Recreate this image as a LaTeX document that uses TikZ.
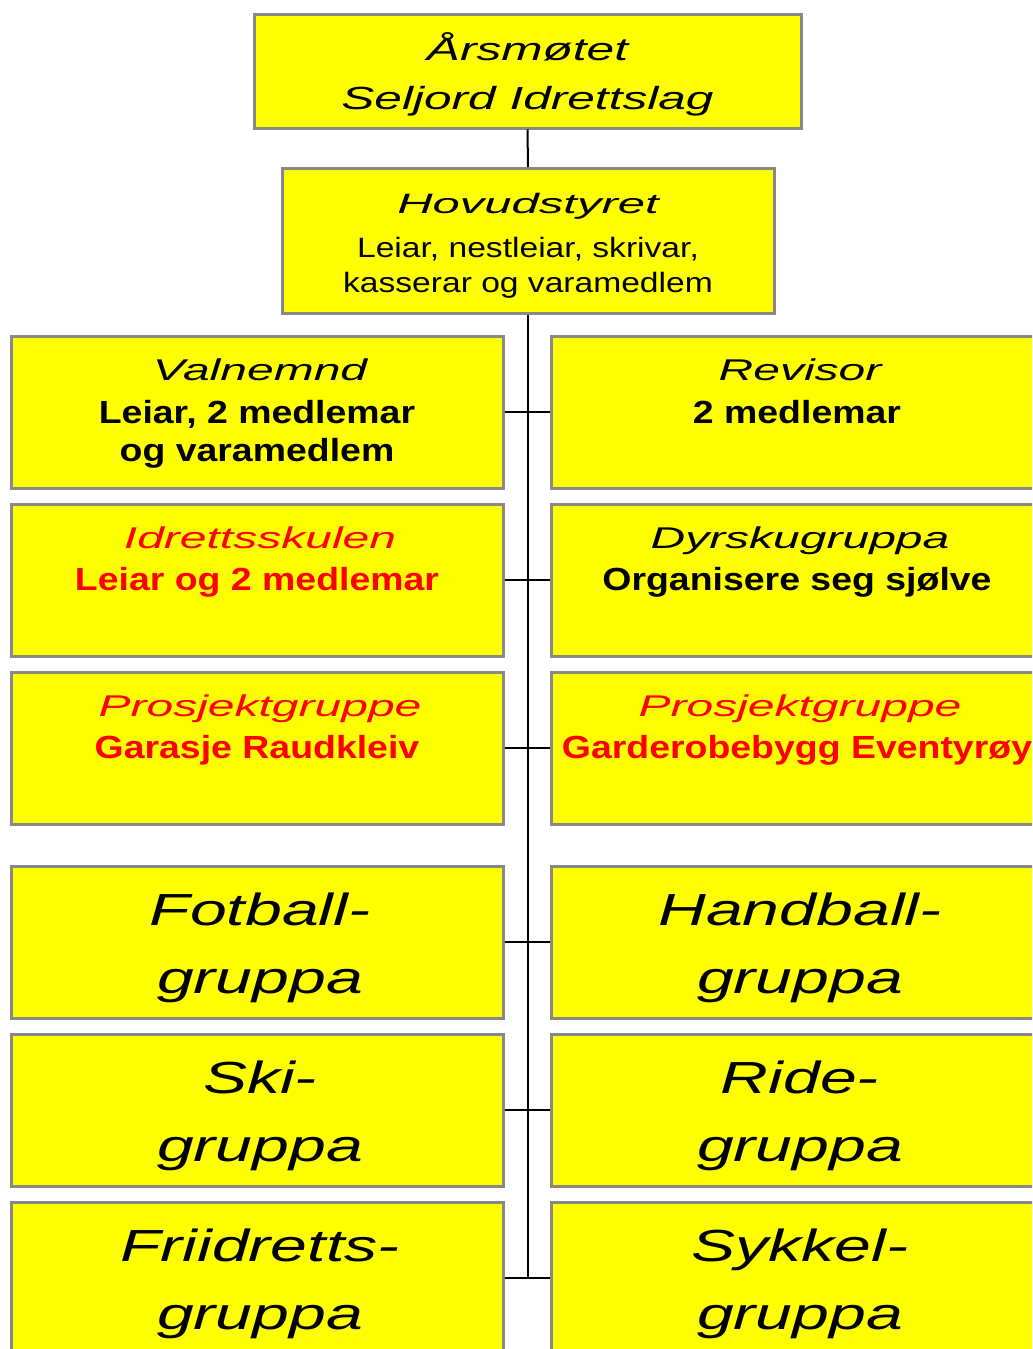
\documentclass[tikz,border=0pt]{standalone}
\usepackage{fontspec}
\setmainfont{Liberation Sans}
\newfontfamily\topf{Liberation Sans}[FakeStretch=1.55]
\newfontfamily\hovf{Liberation Sans}[FakeStretch=1.75]
\newfontfamily\hdf{Liberation Sans}[FakeStretch=1.6]
\newfontfamily\grpf{Liberation Sans}[FakeStretch=1.47]
\newfontfamily\narf{Liberation Sans}[FakeStretch=1.2]
\newfontfamily\bodf{Liberation Sans}[FakeStretch=1.17]
\definecolor{boxyellow}{HTML}{FFFF00}
\definecolor{boxgray}{HTML}{888888}
\definecolor{txtred}{HTML}{FF0000}
\begin{document}
\begin{tikzpicture}[x=0.75pt,y=-0.75pt,
  box/.style={draw=boxgray, line width=2.25pt, fill=boxyellow, rectangle, inner sep=0pt,
              minimum width=369pt, minimum height=114pt},
  ln/.style={anchor=base, inner sep=0pt},
  toptxt/.style={ln, font=\topf\itshape\fontsize{24}{28}\selectfont},
  hovtxt/.style={ln, font=\hovf\itshape\fontsize{21}{25}\selectfont},
  nartxt/.style={ln, font=\narf\fontsize{21}{25}\selectfont},
  headtxt/.style={ln, font=\hdf\itshape\fontsize{22.5}{27}\selectfont},
  bodytxt/.style={ln, font=\bodf\bfseries\fontsize{24}{28}\selectfont},
  grptxt/.style={ln, font=\grpf\itshape\fontsize{33.75}{40}\selectfont},
  red/.style={text=txtred},
  conn/.style={draw=black, line width=1.5pt}]
\clip (0,0) rectangle (1032,1349);

% boxes
\node[box, minimum width=410.25pt, minimum height=85.5pt] (top) at (527.5,71) {};
\node[box, minimum height=108.75pt] (hov) at (528,241) {};
\node[box] (L1) at (257,412) {};
\node[box] (R1) at (797,412) {};
\node[box] (L2) at (257,580) {};
\node[box] (R2) at (797,580) {};
\node[box] (L3) at (257,748) {};
\node[box] (R3) at (797,748) {};
\node[box] (L4) at (257,942) {};
\node[box] (R4) at (797,942) {};
\node[box] (L5) at (257,1110) {};
\node[box] (R5) at (797,1110) {};
\node[box] (L6) at (257,1278) {};
\node[box] (R6) at (797,1278) {};

% connectors
\coordinate (spineend) at (hov.south |- L6.east);
\draw[conn] (top.south) -- (hov.north);
\draw[conn] (hov.south) -- (spineend);
\foreach \r in {1,...,6} {\draw[conn] (L\r.east) -- (R\r.west);}

% texts
\node[toptxt] (t1a) at (527.5,60) {Årsmøtet};
\node[toptxt] (t1b) at (527.5,109) {Seljord Idrettslag};

\node[hovtxt] (t2a) at (528,213) {Hovudstyret};
\node[nartxt] (t2b) at (528,257) {Leiar, nestleiar, skrivar,};
\node[nartxt] (t2c) at (528,292) {kasserar og varamedlem};

\node[headtxt] (l1a) at (260,380) {Valnemnd};
\node[bodytxt] (l1b) at (257,423) {Leiar, 2 medlemar};
\node[bodytxt] (l1c) at (257,461) {og varamedlem};

\node[headtxt] (r1a) at (800,380) {Revisor};
\node[bodytxt] (r1b) at (797,423) {2 medlemar};

\node[headtxt, red] (l2a) at (260,548) {Idrettsskulen};
\node[bodytxt, red] (l2b) at (257,590) {Leiar og 2 medlemar};

\node[headtxt] (r2a) at (800,548) {Dyrskugruppa};
\node[bodytxt] (r2b) at (797,590) {Organisere seg sjølve};

\node[headtxt, red] (l3a) at (260,716) {Prosjektgruppe};
\node[bodytxt, red] (l3b) at (257,758) {Garasje Raudkleiv};

\node[headtxt, red] (r3a) at (800,716) {Prosjektgruppe};
\node[bodytxt, red] (r3b) at (797,758) {Garderobebygg Eventyrøy};

\node[grptxt] (l4a) at (260,925) {Fotball-};
\node[grptxt] (l4b) at (260,993) {gruppa};
\node[grptxt] (r4a) at (800,925) {Handball-};
\node[grptxt] (r4b) at (800,993) {gruppa};

\node[grptxt] (l5a) at (260,1093) {Ski-};
\node[grptxt] (l5b) at (260,1161) {gruppa};
\node[grptxt] (r5a) at (800,1093) {Ride-};
\node[grptxt] (r5b) at (800,1161) {gruppa};

\node[grptxt] (l6a) at (260,1261) {Friidretts-};
\node[grptxt] (l6b) at (260,1329) {gruppa};
\node[grptxt] (r6a) at (800,1261) {Sykkel-};
\node[grptxt] (r6b) at (800,1329) {gruppa};
\end{tikzpicture}
\end{document}
